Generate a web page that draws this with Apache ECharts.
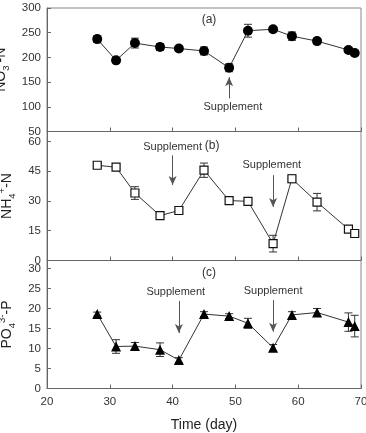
<!DOCTYPE html>
<html>
<head>
<meta charset="utf-8">
<script src="https://cdn.jsdelivr.net/npm/echarts@6/dist/echarts.min.js"></script>
<style>
  html, body { margin: 0; padding: 0; background: #fff; }
  #main { width: 366px; height: 433px; }
</style>
</head>
<body>
<div id="main"></div>
<script>
// sampling days (same for all three panels)
var days = [28, 31, 34, 38, 41, 45, 49, 52, 56, 59, 63, 68, 69];

// (a) NO3- -N
var no3 = [237, 194, 229, 221, 218, 213, 179, 254, 257, 243, 233, 215, 209];
var no3Err = [7, 5, 10, 7, 5, 8, 8, 13, 5, 8.5, 5, 5, 5];

// (b) NH4+ -N
var nh4 = [48, 47, 34, 22.6, 25.2, 45.5, 30.2, 29.8, 8.5, 41.2, 29.4, 15.8, 13.6];
var nh4Err = [1, 1, 3.2, 1.5, 1, 3.6, 1, 1, 4.2, 2, 4.4, 1.5, 1];

// (c) PO4 3- -P
var po4 = [18.6, 10.5, 10.6, 9.7, 7.1, 18.6, 18.1, 16.3, 10.2, 18.4, 19.0, 16.6, 15.6];
var po4Err = [0.5, 1.7, 0.9, 1.7, 0.6, 0.6, 0.6, 1.25, 0.8, 0.8, 1, 2.3, 2.7];

// axis ticks
var xTicks = [20, 30, 40, 50, 60, 70];
var yRangeA = [50, 300, 50];
var yRangeB = [0, 65, 15];
var yRangeC = [0, 32, 5];

// annotations: [textDay, textValue, arrowFrom, arrowTo, arrowDay]
var suppA = [[49.6, 99, 117, 160, 49]];
var suppB = [[40.0, 57, 53, 38, 40], [55.8, 48, 43, 27, 56]];
var suppC = [[40.5, 24.2, 21.9, 13.9, 41], [56.0, 24.5, 22.1, 14.2, 56]];
var panelTags = [['(a)', 45.8, 277], ['(b)', 46.3, 58], ['(c)', 45.8, 29]];

var font = 'Liberation Sans, Arial, sans-serif';
var axisColor = '#666';

var chart = echarts.init(document.getElementById('main'));

function pairs(vals) {
    var out = [];
    for (var i = 0; i < days.length; i++) out.push([days[i], vals[i]]);
    return out;
}

function errData(vals, errs) {
    var out = [];
    for (var i = 0; i < days.length; i++) out.push([days[i], vals[i] - errs[i], vals[i] + errs[i]]);
    return out;
}

function errSeries(idx, vals, errs) {
    return {
        type: 'custom',
        xAxisIndex: idx,
        yAxisIndex: idx,
        z: 1,
        silent: true,
        data: errData(vals, errs),
        renderItem: function (params, api) {
            var lo = api.coord([api.value(0), api.value(1)]);
            var hi = api.coord([api.value(0), api.value(2)]);
            var w = 4;
            var st = { stroke: '#333', lineWidth: 1 };
            return {
                type: 'group',
                children: [
                    { type: 'line', shape: { x1: lo[0], y1: lo[1], x2: hi[0], y2: hi[1] }, style: st },
                    { type: 'line', shape: { x1: lo[0] - w, y1: lo[1], x2: lo[0] + w, y2: lo[1] }, style: st },
                    { type: 'line', shape: { x1: hi[0] - w, y1: hi[1], x2: hi[0] + w, y2: hi[1] }, style: st }
                ]
            };
        }
    };
}

function notes(supp, tag) {
    var lines = [], points = [];
    for (var i = 0; i < supp.length; i++) {
        var s = supp[i];
        lines.push([{ coord: [s[4], s[2]] }, { coord: [s[4], s[3]] }]);
        points.push({ name: 'Supplement', coord: [s[0], s[1]] });
    }
    points.push({ name: tag[0], coord: [tag[1], tag[2]], label: { fontSize: 12 } });
    return {
        markLine: {
            silent: true,
            symbol: ['none', 'arrow'],
            symbolSize: [6, 9],
            lineStyle: { color: '#555', width: 1, type: 'solid' },
            label: { show: false },
            data: lines
        },
        markPoint: {
            silent: true,
            symbol: 'circle',
            symbolSize: 0,
            label: {
                show: true,
                position: 'inside',
                formatter: '{b}',
                color: '#333',
                fontSize: 11,
                fontFamily: font
            },
            data: points
        }
    };
}

function lineSeries(idx, vals, symbol, size, fill, supp, tag) {
    var s = {
        type: 'line',
        xAxisIndex: idx,
        yAxisIndex: idx,
        z: 3,
        data: pairs(vals),
        symbol: symbol,
        symbolSize: size,
        showAllSymbol: true,
        lineStyle: { color: '#333', width: 1 },
        itemStyle: { color: fill, borderColor: '#111', borderWidth: fill == '#fff' ? 1.2 : 0 }
    };
    var n = notes(supp, tag);
    s.markLine = n.markLine;
    s.markPoint = n.markPoint;
    return s;
}

var grids = [
    { left: 47, right: 5, top: 8, height: 123.5 },
    { left: 47, right: 5, top: 131.5, height: 129 },
    { left: 47, right: 5, top: 260.5, height: 128 }
];
grids.forEach(function (g) {
    g.show = true;
    g.borderColor = '#888';
    g.borderWidth = 1;
    g.backgroundColor = 'transparent';
    g.containLabel = false;
    g.outerBoundsMode = 'none';
});

function xAxis(idx, showLabel) {
    return {
        type: 'value',
        gridIndex: idx,
        min: xTicks[0],
        max: xTicks[xTicks.length - 1],
        interval: xTicks[1] - xTicks[0],
        axisLine: { show: true, lineStyle: { color: axisColor } },
        axisTick: { show: true, inside: true, length: 4, lineStyle: { color: axisColor } },
        splitLine: { show: false },
        axisLabel: { show: showLabel, color: '#333', fontSize: 11.5, fontFamily: font, margin: 7 },
        name: showLabel ? 'Time (day)' : '',
        nameLocation: 'middle',
        nameGap: 30,
        nameTextStyle: { color: '#222', fontSize: 14, fontFamily: font }
    };
}

var richName = {
    n: { fontSize: 14, fontFamily: font, color: '#222', lineHeight: 20 },
    sub: { fontSize: 9.5, fontFamily: font, color: '#222', lineHeight: 20, verticalAlign: 'bottom' },
    sup: { fontSize: 9.5, fontFamily: font, color: '#222', lineHeight: 20, verticalAlign: 'top' }
};

function yAxis(idx, range, name) {
    return {
        type: 'value',
        gridIndex: idx,
        min: range[0],
        max: range[1],
        interval: range[2],
        axisLine: { show: true, lineStyle: { color: axisColor } },
        axisTick: { show: true, inside: true, length: 4, lineStyle: { color: axisColor } },
        splitLine: { show: false },
        axisLabel: {
            color: '#333', fontSize: 11.5, fontFamily: font, margin: 6,
            showMaxLabel: range[1] % range[2] === 0, showMinLabel: true
        },
        name: name,
        nameLocation: 'middle',
        nameRotate: 90,
        nameGap: 29,
        nameTextStyle: { rich: richName }
    };
}

var option = {
    animation: false,
    backgroundColor: '#fff',
    textStyle: { fontFamily: font },
    grid: grids,
    xAxis: [xAxis(0, false), xAxis(1, false), xAxis(2, true)],
    yAxis: [
        yAxis(0, yRangeA, '{n|NO}{sub|3}{sup|-}{n|-N}'),
        yAxis(1, yRangeB, '{n|NH}{sub|4}{sup|+}{n|-N}'),
        yAxis(2, yRangeC, '{n|PO}{sub|4}{sup|3-}{n|-P}')
    ],
    series: [
        errSeries(0, no3, no3Err),
        errSeries(1, nh4, nh4Err),
        errSeries(2, po4, po4Err),
        lineSeries(0, no3, 'circle', 10, '#000', suppA, panelTags[0]),
        lineSeries(1, nh4, 'rect', 8, '#fff', suppB, panelTags[1]),
        lineSeries(2, po4, 'triangle', 10, '#000', suppC, panelTags[2])
    ]
};

chart.setOption(option);
window.addEventListener('resize', function () {
    chart.resize();
});
</script>
</body>
</html>
